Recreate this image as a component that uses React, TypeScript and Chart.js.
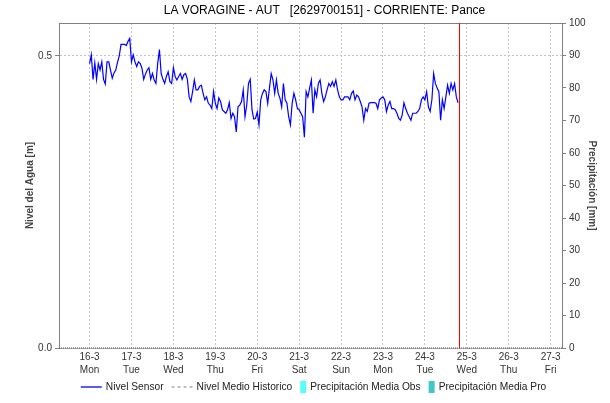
import React, { useEffect, useRef } from 'react';
import { Chart, registerables } from 'chart.js';

Chart.register(...registerables);

const chartTitle = 'LA VORAGINE - AUT   [2629700151] - CORRIENTE: Pance';
const dayLabels = ['16-3', '17-3', '18-3', '19-3', '20-3', '21-3', '22-3', '23-3', '24-3', '25-3', '26-3', '27-3'];
const weekdayLabels = ['Mon', 'Tue', 'Wed', 'Thu', 'Fri', 'Sat', 'Sun', 'Mon', 'Tue', 'Wed', 'Thu', 'Fri'];
const dayTickHours = [0, 24, 48, 72, 96, 120, 144, 168, 192, 216, 240, 264];
const leftTicks = [0, 0.5];

// hours relative to 16-3 00:00
const axisStartHour = -17.5;
const axisEndHour = 270.5;
const nowHour = 211.7;
const sensorStartHour = 0;

// Nivel Sensor, hourly readings [m]
const nivelSensor = [
  0.487, 0.502, 0.460, 0.488, 0.460, 0.487, 0.476, 0.490, 0.460, 0.452,
  0.490, 0.490, 0.476, 0.462, 0.471, 0.476, 0.489, 0.500, 0.520, 0.520,
  0.520, 0.518, 0.525, 0.530, 0.490, 0.502, 0.490, 0.482, 0.490, 0.487,
  0.479, 0.460, 0.469, 0.476, 0.480, 0.460, 0.470, 0.459, 0.453, 0.487,
  0.511, 0.470, 0.460, 0.453, 0.465, 0.473, 0.456, 0.453, 0.480, 0.465,
  0.459, 0.465, 0.470, 0.460, 0.468, 0.470, 0.460, 0.430, 0.422, 0.439,
  0.459, 0.442, 0.442, 0.448, 0.450, 0.436, 0.425, 0.430, 0.419, 0.416,
  0.410, 0.439, 0.419, 0.410, 0.428, 0.422, 0.408, 0.405, 0.402, 0.408,
  0.420, 0.393, 0.402, 0.396, 0.370, 0.413, 0.416, 0.422, 0.442, 0.396,
  0.416, 0.453, 0.460, 0.408, 0.392, 0.393, 0.404, 0.382, 0.425, 0.436,
  0.442, 0.439, 0.419, 0.445, 0.470, 0.459, 0.436, 0.459, 0.436, 0.428,
  0.413, 0.453, 0.425, 0.419, 0.396, 0.382, 0.419, 0.436, 0.425, 0.410,
  0.408, 0.402, 0.396, 0.361, 0.439, 0.430, 0.445, 0.459, 0.402, 0.442,
  0.430, 0.453, 0.459, 0.436, 0.422, 0.430, 0.442, 0.453, 0.448, 0.456,
  0.448, 0.459, 0.442, 0.430, 0.425, 0.425, 0.430, 0.430, 0.430, 0.425,
  0.436, 0.440, 0.425, 0.433, 0.430, 0.422, 0.413, 0.390, 0.410, 0.405,
  0.419, 0.420, 0.420, 0.420, 0.419, 0.410, 0.425, 0.428, 0.430, 0.425,
  0.405, 0.416, 0.422, 0.410, 0.410, 0.408, 0.402, 0.393, 0.390, 0.399,
  0.420, 0.410, 0.402, 0.396, 0.390, 0.402, 0.402, 0.402, 0.405, 0.410,
  0.425, 0.430, 0.425, 0.439, 0.413, 0.405, 0.425, 0.470, 0.453, 0.445,
  0.439, 0.390, 0.425, 0.410, 0.430, 0.450, 0.436, 0.453, 0.442, 0.453,
  0.430, 0.420,
];

// Nivel Medio Historico [m] at the ends of the axis
const historicoHours = [axisStartHour, axisEndHour];
const nivelMedioHistorico = [0, 0];

// Precipitation series (empty in this period) [mm]
const precipObs: number[] = [];
const precipPro: number[] = [];

const FONT = '"Liberation Sans", Arial, sans-serif';

const framePlugin = {
  id: 'framePlugin',
  afterDatasetsDraw(chart: any) {
    const { ctx, chartArea, scales } = chart;
    ctx.save();
    ctx.strokeStyle = '#808080';
    ctx.lineWidth = 1;
    ctx.beginPath();
    ctx.moveTo(chartArea.left, chartArea.top + 0.5);
    ctx.lineTo(chartArea.right, chartArea.top + 0.5);
    ctx.stroke();
    const px = Math.round(scales.x.getPixelForValue(nowHour)) + 0.5;
    ctx.strokeStyle = '#ff0000';
    ctx.beginPath();
    ctx.moveTo(px, chartArea.top);
    ctx.lineTo(px, chartArea.bottom);
    ctx.stroke();
    ctx.restore();
  },
  afterDraw(chart: any) {
    const { ctx } = chart;
    ctx.save();
    ctx.font = '12px ' + FONT;
    ctx.fillStyle = '#000';
    ctx.textAlign = 'center';
    ctx.textBaseline = 'middle';
    ctx.fillText(chartTitle, 324.5, 11);
    ctx.font = '10.2px ' + FONT;
    ctx.textAlign = 'left';
    const items = chart.data.datasets.map((d: any) => ({
      label: d.label,
      kind: d.legendKind,
      color: d.legendColor,
    }));
    const sampleW = (k: string) => (k === 'box' ? 6 : 21);
    const gap = 4;
    const itemGap = 8;
    let total = 0;
    items.forEach((it: any, i: number) => {
      total += sampleW(it.kind) + gap + ctx.measureText(it.label).width;
      if (i < items.length - 1) total += itemGap;
    });
    let x = 313.5 - total / 2;
    const y = 387;
    items.forEach((it: any) => {
      const w = sampleW(it.kind);
      if (it.kind === 'box') {
        ctx.fillStyle = it.color;
        ctx.fillRect(x, y - 6, 6, 12);
      } else {
        ctx.strokeStyle = it.color;
        ctx.lineWidth = it.kind === 'dash' ? 2 : 1.3;
        ctx.setLineDash(it.kind === 'dash' ? [3, 3] : []);
        ctx.beginPath();
        ctx.moveTo(x, y);
        ctx.lineTo(x + w, y);
        ctx.stroke();
        ctx.setLineDash([]);
      }
      x += w + gap;
      ctx.fillStyle = '#222';
      ctx.fillText(it.label, x, y);
      x += ctx.measureText(it.label).width + itemGap;
    });
    ctx.restore();
  },
};

export default function App() {
  const ref = useRef<HTMLCanvasElement>(null);

  useEffect(() => {
    const canvas = ref.current;
    if (!canvas) return;
    Chart.defaults.font.family = FONT;

    const sensorPoints = nivelSensor.map((v, i) => ({ x: sensorStartHour + i, y: v }));
    const historicoPoints = historicoHours.map((h, i) => ({ x: h, y: nivelMedioHistorico[i] }));

    const chart = new Chart(canvas, {
      type: 'line',
      data: {
        datasets: [
          {
            label: 'Nivel Sensor',
            data: sensorPoints,
            borderColor: '#0000ff',
            borderWidth: 1.2,
            pointRadius: 0,
            tension: 0,
            yAxisID: 'y',
            legendKind: 'line',
            legendColor: '#0000ff',
          } as any,
          {
            label: 'Nivel Medio Historico',
            data: historicoPoints,
            borderColor: '#555555',
            borderDash: [1, 1],
            borderWidth: 1,
            pointRadius: 0,
            clip: false,
            yAxisID: 'y',
            legendKind: 'dash',
            legendColor: '#c0c0c0',
          } as any,
          {
            type: 'bar',
            label: 'Precipitación Media Obs',
            data: precipObs,
            backgroundColor: '#55ffff',
            yAxisID: 'y2',
            legendKind: 'box',
            legendColor: '#55ffff',
          } as any,
          {
            type: 'bar',
            label: 'Precipitación Media Pro',
            data: precipPro,
            backgroundColor: '#40c8c8',
            yAxisID: 'y2',
            legendKind: 'box',
            legendColor: '#40c8c8',
          } as any,
        ],
      },
      options: {
        animation: false,
        responsive: true,
        maintainAspectRatio: false,
        layout: { padding: { top: 23, bottom: 19, left: 0, right: 0 } },
        plugins: {
          legend: { display: false },
          title: { display: false },
          tooltip: { enabled: false },
        },
        scales: {
          x: {
            type: 'linear',
            position: 'bottom',
            offset: false,
            min: axisStartHour,
            max: axisEndHour,
            afterBuildTicks: (s: any) => {
              s.ticks = dayTickHours.map((h) => ({ value: h }));
            },
            afterFit: (s: any) => {
              s.height = 36;
            },
            ticks: {
              autoSkip: false,
              maxRotation: 0,
              padding: 3,
              color: '#333',
              font: { size: 10, lineHeight: 1.3 },
              callback: (v: any) => {
                const i = dayTickHours.indexOf(Number(v));
                return i >= 0 ? [dayLabels[i], weekdayLabels[i]] : '';
              },
            },
            grid: { color: '#c4c4c4', drawTicks: false, offset: false, borderDash: [2, 2] } as any,
            border: { color: '#b0b0b0', dash: [2, 2] },
          },
          y: {
            type: 'linear',
            position: 'left',
            min: 0,
            max: 0.5565,
            afterBuildTicks: (s: any) => {
              s.ticks = leftTicks.map((v) => ({ value: v }));
            },
            afterFit: (s: any) => {
              s.width = 59;
            },
            ticks: {
              padding: 3,
              color: '#333',
              font: { size: 10 },
              callback: (v: any) => Number(v).toFixed(1),
            },
            grid: {
              color: (c: any) => (c.tick && c.tick.value === 0 ? 'rgba(0,0,0,0)' : '#c4c4c4'),
              tickColor: '#808080',
              tickLength: 4,
              borderDash: [2, 2],
            } as any,
            border: { color: '#808080', dash: [2, 2] },
            title: {
              display: true,
              text: 'Nivel del Agua [m]',
              color: '#444',
              font: { size: 10, weight: 'bold' },
              padding: { top: 24, bottom: 0 },
            },
          },
          y2: {
            type: 'linear',
            position: 'right',
            min: 0,
            max: 100,
            afterFit: (s: any) => {
              s.width = 48;
            },
            ticks: { stepSize: 10, padding: 3, color: '#333', font: { size: 10 } },
            grid: { drawOnChartArea: false, tickColor: '#808080', tickLength: 4 },
            border: { color: '#808080' },
            title: {
              display: true,
              text: 'Precipitación [mm]',
              color: '#444',
              font: { size: 10, weight: 'bold' },
              padding: { top: 12, bottom: 0 },
            },
          },
        },
      } as any,
      plugins: [framePlugin],
    });

    return () => chart.destroy();
  }, []);

  return (
    <div style={{ position: 'fixed', left: 0, top: 0, width: 610, height: 403 }}>
      <canvas ref={ref} />
    </div>
  );
}
